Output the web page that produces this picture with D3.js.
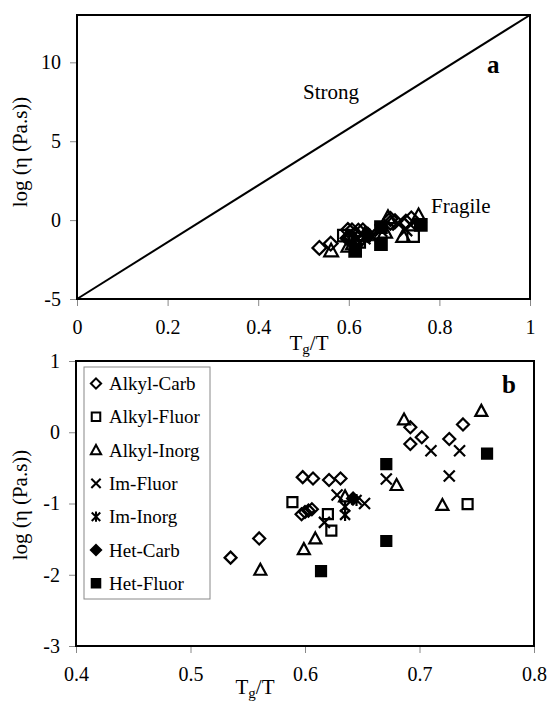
<!DOCTYPE html>
<html>
<head>
<meta charset="utf-8">
<script src="https://cdn.jsdelivr.net/npm/d3@7"></script>
<style>
  body { margin: 0; background: #fff; }
  svg text { font-family: "Liberation Serif", "Times New Roman", "DejaVu Serif", serif; }
</style>
</head>
<body>
<div id="chart"></div>
<script>
// series data (Tg/T, log viscosity)
const seriesNames = ["Alkyl-Carb", "Alkyl-Fluor", "Alkyl-Inorg", "Im-Fluor", "Im-Inorg", "Het-Carb", "Het-Fluor"];
const alkylCarbX = [0.535, 0.56, 0.598, 0.607, 0.621, 0.631, 0.597, 0.600, 0.603, 0.606, 0.692, 0.692, 0.702, 0.726, 0.738];
const alkylCarbY = [-1.76, -1.49, -0.63, -0.65, -0.67, -0.65, -1.15, -1.12, -1.10, -1.08, 0.07, -0.165, -0.07, -0.095, 0.11];
const alkylFluorX = [0.589, 0.620, 0.623, 0.742];
const alkylFluorY = [-0.98, -1.15, -1.38, -1.01];
const alkylInorgX = [0.561, 0.599, 0.609, 0.635, 0.680, 0.6865, 0.720, 0.754];
const alkylInorgY = [-1.93, -1.64, -1.49, -0.90, -0.74, 0.18, -1.02, 0.30];
const imFluorX = [0.617, 0.628, 0.652, 0.671, 0.710, 0.726, 0.735];
const imFluorY = [-1.265, -0.88, -1.00, -0.656, -0.26, -0.614, -0.26];
const imInorgX = [0.635, 0.635, 0.645];
const imInorgY = [-1.045, -1.16, -0.95];
const hetCarbX = [0.642];
const hetCarbY = [-0.93];
const hetFluorX = [0.614, 0.671, 0.671, 0.759];
const hetFluorY = [-1.95, -1.526, -0.446, -0.30];

// strong liquid reference line (panel a)
const strongX = [0, 1];
const strongY = [-5, 13];

const ticksAX = [0, 0.2, 0.4, 0.6, 0.8, 1];
const ticksAY = [-5, 0, 5, 10];
const ticksBX = [0.4, 0.5, 0.6, 0.7, 0.8];
const ticksBY = [-3, -2, -1, 0, 1];

const width = 551, height = 704;
const serif = "Liberation Serif, Times New Roman, serif";
const allX = [alkylCarbX, alkylFluorX, alkylInorgX, imFluorX, imInorgX, hetCarbX, hetFluorX];
const allY = [alkylCarbY, alkylFluorY, alkylInorgY, imFluorY, imInorgY, hetCarbY, hetFluorY];

const svg = d3.select("#chart").append("svg")
  .attr("width", width)
  .attr("height", height)
  .attr("font-family", serif);

// marker shapes, centered on 0,0
function markerPath(i) {
  if (i === 0 || i === 5) return "M0,-6L6,0L0,6L-6,0Z";
  if (i === 1 || i === 6) return "M-5,-5H5V5H-5Z";
  if (i === 2) return "M0,-6L6,5H-6Z";
  if (i === 3) return "M-5.5,-5.5L5.5,5.5M5.5,-5.5L-5.5,5.5";
  return "M-5,-5L5,5M5,-5L-5,5M0,-6V6";
}
function markerFill(i) { return (i === 5 || i === 6) ? "#000" : "none"; }

const plain = d => String(d);

function drawPanel(cfg) {
  const x = d3.scaleLinear().domain(cfg.xDomain).range([cfg.left, cfg.right]);
  const y = d3.scaleLinear().domain(cfg.yDomain).range([cfg.bottom, cfg.top]);

  svg.append("g")
    .attr("transform", `translate(0,${cfg.bottom})`)
    .call(d3.axisBottom(x).tickValues(cfg.xTicks).tickSize(7).tickPadding(14).tickFormat(plain))
    .call(g => g.attr("font-family", serif))
    .call(g => g.select(".domain").remove())
    .call(g => g.selectAll("line").attr("stroke", "#888"))
    .call(g => g.selectAll("text").attr("font-size", 20).attr("fill", "#000"));

  svg.append("g")
    .attr("transform", `translate(${cfg.left},0)`)
    .call(d3.axisLeft(y).tickValues(cfg.yTicks).tickSize(7).tickPadding(9).tickFormat(plain))
    .call(g => g.attr("font-family", serif))
    .call(g => g.select(".domain").remove())
    .call(g => g.selectAll("line").attr("stroke", "#888"))
    .call(g => g.selectAll("text").attr("font-size", 20).attr("fill", "#000"));

  const plot = svg.append("g");

  if (cfg.strong) {
    plot.append("path")
      .datum(strongX.map((d, i) => [d, strongY[i]]))
      .attr("d", d3.line().x(d => x(d[0])).y(d => y(d[1])))
      .attr("stroke", "#000").attr("stroke-width", 2).attr("fill", "none");
  }

  allX.forEach((xs, s) => {
    plot.selectAll(null)
      .data(xs.map((d, i) => [d, allY[s][i]]))
      .enter().append("path")
      .attr("transform", d => `translate(${x(d[0])},${y(d[1])}) scale(${cfg.markerScale})`)
      .attr("d", markerPath(s))
      .attr("fill", markerFill(s))
      .attr("stroke", "#000")
      .attr("stroke-width", 2.2 / cfg.markerScale);
  });

  svg.append("rect")
    .attr("x", cfg.left).attr("y", cfg.top)
    .attr("width", cfg.right - cfg.left).attr("height", cfg.bottom - cfg.top)
    .attr("fill", "none").attr("stroke", "#000").attr("stroke-width", 2);

  // y title
  svg.append("text")
    .attr("transform", `translate(${cfg.yTitleX},${cfg.yTitleY}) rotate(-90)`)
    .attr("text-anchor", "middle").attr("font-size", 21)
    .text("log (η (Pa.s))");

  // x title with subscript g
  const xt = svg.append("text")
    .attr("x", cfg.xTitleX).attr("y", cfg.xTitleY)
    .attr("text-anchor", "middle").attr("font-size", 21);
  xt.append("tspan").text("T");
  xt.append("tspan").attr("font-size", 15).attr("dy", 4).text("g");
  xt.append("tspan").attr("dy", -4).text("/T");

  svg.append("text")
    .attr("x", cfg.letterX).attr("y", cfg.letterY)
    .attr("font-size", 25).attr("font-weight", "bold")
    .text(cfg.letter);

  return { x, y };
}

drawPanel({
  xDomain: [0, 1], yDomain: [-5, 13],
  left: 77, right: 530, top: 15, bottom: 299,
  xTicks: ticksAX, yTicks: ticksAY, strong: true, markerScale: 1.15,
  yTitleX: 27, yTitleY: 152, xTitleX: 309, xTitleY: 350,
  letter: "a", letterX: 487, letterY: 73
});

svg.append("text").attr("x", 303).attr("y", 99).attr("font-size", 21).text("Strong");
svg.append("text").attr("x", 431).attr("y", 213).attr("font-size", 21).text("Fragile");

drawPanel({
  xDomain: [0.4, 0.8], yDomain: [-3, 1],
  left: 76, right: 534, top: 361, bottom: 646,
  xTicks: ticksBX, yTicks: ticksBY, strong: false, markerScale: 1,
  yTitleX: 27, yTitleY: 505, xTitleX: 255, xTitleY: 694,
  letter: "b", letterX: 502, letterY: 393
});

// legend
const legend = svg.append("g");
legend.append("rect")
  .attr("x", 84).attr("y", 367).attr("width", 126).attr("height", 232)
  .attr("fill", "#fff").attr("stroke", "#888").attr("stroke-width", 1);
seriesNames.forEach((name, i) => {
  const cy = 383.5 + i * 33.3;
  legend.append("path")
    .attr("transform", `translate(96,${cy}) scale(0.85)`)
    .attr("d", markerPath(i))
    .attr("fill", markerFill(i))
    .attr("stroke", "#000").attr("stroke-width", 2.4);
  legend.append("text")
    .attr("x", 109).attr("y", cy + 6.5)
    .attr("font-size", 19)
    .text(name);
});
</script>
</body>
</html>
